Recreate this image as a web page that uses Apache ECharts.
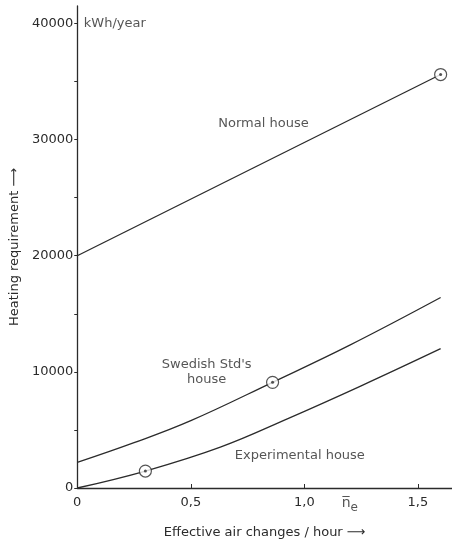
<!DOCTYPE html>
<html><head><meta charset="utf-8">
<script src="https://cdn.jsdelivr.net/npm/echarts@6/dist/echarts.min.js"></script>
<style>html,body{margin:0;padding:0;background:#fff}#c{width:452px;height:544px}</style>
</head><body><div id="c"></div>
<script>
const normalHouse = [[0,20000],[1.6,35600]];
const swedishHouse = [[0,2200],[0.25,3900],[0.5,5800],[0.86,9100],[1.2,12300],[1.6,16400]];
const experimentalHouse = [[0,0],[0.3,1460],[0.63,3520],[0.93,6000],[1.25,8800],[1.6,12000]];
const measured = [[1.6,35600],[0.86,9100],[0.3,1460]];
const xTickLabels = {0:'0',0.5:'0,5',1:'1,0',1.5:'1,5'};
const yTickLabels = {0:'0',10000:'10000',20000:'20000',30000:'30000',40000:'40000'};
const annotations = [
  {value:[0.02,40000], text:'kWh/year', pos:'right'},
  {value:[0.82,31400], text:'Normal house', pos:'inside'},
  {value:[0.57,10000], text:"Swedish Std's\nhouse", pos:'inside'},
  {value:[0.98,2830], text:'Experimental house', pos:'inside'},
  {value:[1.2,0], text:'{n|n\u0305}{e|e}', pos:'bottom'}
];
const ink = '#2b2b2b';
const font = 'DejaVu Sans';
const chart = echarts.init(document.getElementById('c'));
const lineStyle = {color: ink, width: 1.3};
chart.setOption({
  animation:false,
  grid:{left:74, right:0, top:6, bottom:56},
  xAxis:{type:'value', min:0, max:1.65, interval:0.5,
    axisLine:{lineStyle:{color:ink, width:1.3}},
    axisTick:{inside:true, length:4, lineStyle:{color:ink}},
    splitLine:{show:false},
    axisLabel:{color:ink, fontFamily:font, fontSize:13, margin:8, showMaxLabel:false,
      formatter:v=>xTickLabels[v]!==undefined?xTickLabels[v]:''},
    name:'Effective air changes / hour \u27F6', nameLocation:'middle', nameGap:38,
    nameTextStyle:{color:ink, fontFamily:font, fontSize:13}},
  yAxis:{type:'value', min:0, max:41500, interval:5000,
    axisLine:{show:true, lineStyle:{color:ink, width:1.3}},
    axisTick:{show:true, length:3, lineStyle:{color:ink}},
    splitLine:{show:false},
    axisLabel:{color:ink, fontFamily:font, fontSize:13, margin:4, showMaxLabel:false,
      formatter:v=>yTickLabels[v]!==undefined?yTickLabels[v]:''},
    name:'Heating requirement \u27F6', nameLocation:'middle', nameGap:56, nameRotate:90,
    nameTextStyle:{color:ink, fontFamily:font, fontSize:13}},
  series:[
    {type:'line', data:normalHouse, showSymbol:false, lineStyle, z:2},
    {type:'line', data:swedishHouse, smooth:0.4, showSymbol:false, lineStyle, z:2},
    {type:'line', data:experimentalHouse, smooth:0.4, showSymbol:false, lineStyle, z:2},
    {type:'scatter', data:measured, symbol:'circle', symbolSize:12,
      itemStyle:{color:'#fff', borderColor:ink, borderWidth:1.2}, z:3},
    {type:'scatter', data:measured, symbol:'circle', symbolSize:3,
      itemStyle:{color:ink}, z:4},
    {type:'scatter', symbolSize:0, z:5, silent:true,
      data:annotations.map(a=>({value:a.value, label:{show:true, formatter:a.text, position:a.pos,
        distance: a.pos==='bottom'?8:2, color:ink, fontFamily:font, fontSize:13, lineHeight:15,
        align:a.pos==='right'?'left':'center',
        rich:{n:{fontFamily:font, fontSize:14, color:ink}, e:{fontFamily:font, fontSize:12, color:ink, padding:[8,0,0,0]}}}}))}
  ]
});
</script></body></html>
